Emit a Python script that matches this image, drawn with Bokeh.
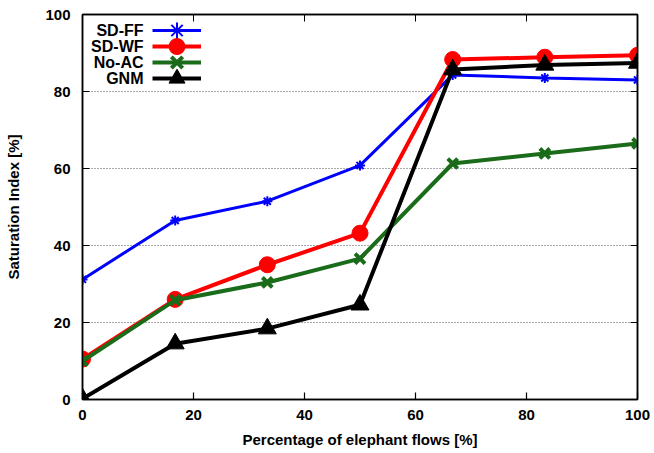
from bokeh.plotting import figure
from bokeh.models import Range1d, LinearAxis, Legend, LegendItem, Label, SingleIntervalTicker
from bokeh.embed import file_html
from bokeh.resources import INLINE

# ---- data ----
x_vals = [0, 16.7, 33.3, 50, 66.7, 83.3, 100]
sd_ff = [31.2, 46.5, 51.5, 60.8, 84.3, 83.5, 83.0]
sd_wf = [10.5, 26.0, 35.0, 43.2, 88.3, 88.9, 89.4]
no_ac = [10.0, 25.8, 30.4, 36.6, 61.3, 63.9, 66.5]
gnm = [0.2, 14.5, 18.4, 24.6, 85.7, 86.9, 87.4]
series_names = ["SD-FF", "SD-WF", "No-AC", "GNM"]
x_label = "Percentage of elephant flows [%]"
y_label = "Saturation Index [%]"

FONT = "Liberation Sans"

p = figure(width=654, height=453, output_backend="svg", toolbar_location=None,
           x_range=Range1d(0, 100), y_range=Range1d(0, 100),
           min_border_left=82, min_border_right=17, min_border_top=14, min_border_bottom=54,
           background_fill_color="white", border_fill_color="white")

p.outline_line_color = "black"
p.outline_line_width = 1.5

p.xgrid.visible = False
p.ygrid.grid_line_color = "#555555"
p.ygrid.grid_line_dash = "1 2"
p.ygrid.grid_line_width = 1
p.ygrid.ticker = SingleIntervalTicker(interval=20)

for ax in (p.xaxis[0], p.yaxis[0]):
    ax.ticker = SingleIntervalTicker(interval=20)
    ax.major_tick_in = 7
    ax.major_tick_out = 0
    ax.minor_tick_line_color = None
    ax.axis_line_width = 1.5
    ax.major_tick_line_width = 1.2
    ax.major_label_text_font = FONT
    ax.major_label_text_font_style = "bold"
    ax.major_label_text_font_size = "15px"
    ax.major_label_text_color = "black"
    ax.axis_label_text_font = FONT
    ax.axis_label_text_font_style = "bold"
    ax.axis_label_text_font_size = "15px"
    ax.axis_label_text_color = "black"

p.xaxis[0].axis_label = x_label
p.yaxis[0].axis_label = y_label
p.xaxis[0].major_label_standoff = 6
p.yaxis[0].major_label_standoff = 8
p.xaxis[0].axis_label_standoff = 8
p.yaxis[0].axis_label_standoff = 20

for loc in ("above", "right"):
    ax = LinearAxis(ticker=SingleIntervalTicker(interval=20))
    ax.major_tick_in = 7
    ax.major_tick_out = 0
    ax.minor_tick_line_color = None
    ax.axis_line_width = 1.5
    ax.major_label_text_font_size = "1px"
    ax.major_label_text_alpha = 0
    ax.major_label_standoff = 0
    p.add_layout(ax, loc)

# ---- series ----
l1 = p.line(x_vals, sd_ff, line_color="#0000ff", line_width=3)
m1 = p.scatter(x_vals, sd_ff, marker="asterisk", size=10, line_color="#0000ff", line_width=2)
l2 = p.line(x_vals, sd_wf, line_color="#ff0000", line_width=4)
m2 = p.scatter(x_vals, sd_wf, marker="circle", size=16, fill_color="#ff0000", line_color="#ff0000")
l3 = p.line(x_vals, no_ac, line_color="#1a6b1a", line_width=4)
m3 = p.scatter(x_vals, no_ac, marker="x", size=14, line_color="#1a6b1a", line_width=4)
l4 = p.line(x_vals, gnm, line_color="black", line_width=4)
m4 = p.scatter(x_vals, gnm, marker="triangle", size=18, fill_color="black", line_color="black")

FRAME_BOTTOM = 399  # px from top of page
pairs = [(l1, m1), (l2, m2), (l3, m3), (l4, m4)]
row_centers = [29.5, 45.5, 62.0, 78.0]  # legend row centres, px from page top
for (l, m), name, cy in zip(pairs, series_names, row_centers):
    lg = Legend(items=[LegendItem(label=" ", renderers=[l, m])],
                location=(70, FRAME_BOTTOM - cy - 20), padding=0, margin=0, spacing=0,
                glyph_width=49, glyph_height=40, label_height=16, label_width=1,
                label_standoff=0, label_text_font_size="1px",
                border_line_alpha=0, background_fill_alpha=0)
    p.add_layout(lg, "center")
    p.add_layout(Label(x=61, y=FRAME_BOTTOM - cy, x_units="screen", y_units="screen", text=name,
                       text_align="right", text_baseline="middle",
                       text_font=FONT, text_font_style="bold", text_font_size="16px",
                       text_color="black"))

open("out.html", "w").write(file_html(p, INLINE))
